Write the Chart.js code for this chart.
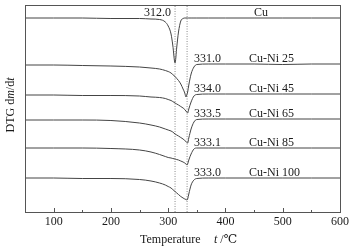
<!DOCTYPE html>
<html>
<head>
<meta charset="utf-8">
<script src="https://cdn.jsdelivr.net/npm/chart.js@4/dist/chart.umd.min.js"></script>
<style>
  html, body { margin: 0; padding: 0; background: #fff; }
  #wrap { width: 352px; height: 251px; }
</style>
</head>
<body>
<div id="wrap"><canvas id="dtgChart"></canvas></div>
<script>
// temperature grid (°C)
var temps = [50, 100, 150, 200, 250, 270, 285, 295, 300, 305, 308, 312, 315, 318, 322, 326, 329, 331, 333, 334, 336, 340, 345, 350, 370, 400, 450, 500, 550, 600];

// DTG curves (arbitrary units, offset per sample)
var cu     = [194, 194, 194, 193.5, 193.5, 193, 192.5, 190, 186, 178, 167, 149, 165, 180, 191, 193.5, 194, 194, 194, 194, 194, 194, 194, 194, 194, 194, 194, 194, 194, 194];
var cuNi25 = [147, 147, 146.5, 146, 145, 144, 143, 141.5, 140.5, 139, 137.5, 135.5, 133.5, 131.5, 128, 123, 119, 115, 118, 120, 127, 138, 145, 147.5, 148, 148, 148, 147.5, 148, 148];
var cuNi45 = [117, 117, 116.5, 116.5, 116, 115, 114.5, 113.5, 112.5, 111.5, 110.5, 109, 108, 107, 105.5, 104, 102.5, 101, 99.5, 99, 103, 110, 116, 117.5, 118, 118, 118, 118, 118, 118];
var cuNi65 = [92, 92, 92, 91.5, 89, 87, 85, 83, 82, 81, 80, 78, 77, 76, 74.5, 73, 71.5, 70.5, 69.2, 69, 74, 83, 90, 92.5, 93, 93, 93, 93, 93, 93];
var cuNi85 = [64, 64, 64, 63.5, 62, 60, 57.5, 55.5, 54.5, 54, 53.5, 53, 52.5, 52, 51, 50, 49, 48, 47, 48, 52, 58, 63, 64, 64, 64, 64, 64, 64, 64];
var cuNi100 = [34, 34, 33.5, 33.5, 32.5, 31, 29, 27, 25.5, 24, 22.5, 20.5, 19, 17.5, 15.5, 14, 13, 12.5, 12, 13, 18, 27, 32, 33.5, 34, 34, 34, 34, 34, 34];

var seriesNames = ['Cu', 'Cu-Ni 25', 'Cu-Ni 45', 'Cu-Ni 65', 'Cu-Ni 85', 'Cu-Ni 100'];
var seriesValues = [cu, cuNi25, cuNi45, cuNi65, cuNi85, cuNi100];
var peakTemps = [312.0, 331.0, 334.0, 333.5, 333.1, 333.0];
var guideTemps = [312, 333];
var xTicks = [100, 200, 300, 400, 500, 600];
var xMinorTicks = [150, 250, 350, 450, 550];

var SERIF = '"Liberation Serif", "DejaVu Serif", serif';

var datasets = seriesValues.map(function (vals, i) {
    return {
        label: seriesNames[i],
        data: temps.map(function (t, k) { return { x: t, y: vals[k] }; }),
        borderColor: '#444',
        borderWidth: 1,
        pointRadius: 0,
        cubicInterpolationMode: 'monotone',
        fill: false
    };
});
guideTemps.forEach(function (t) {
    datasets.push({
        label: 'guide ' + t,
        data: [{ x: t, y: 0 }, { x: t, y: 207 }],
        borderColor: '#8a8a8a',
        borderWidth: 1,
        borderDash: [1, 1.5],
        pointRadius: 0,
        fill: false
    });
});

// labels, frame, ticks and axis titles
var decorPlugin = {
    id: 'decor',
    afterDraw: function (chart) {
        var ctx = chart.ctx, a = chart.chartArea;
        var xs = chart.scales.x, ys = chart.scales.y;
        ctx.save();
        ctx.strokeStyle = '#555';
        ctx.lineWidth = 1;
        ctx.strokeRect(Math.round(a.left) + 0.5, Math.round(a.top) + 0.5,
            Math.round(a.right - a.left), Math.round(a.bottom - a.top));
        ctx.beginPath();
        xTicks.forEach(function (t) {
            var px = Math.round(xs.getPixelForValue(t)) + 0.5;
            ctx.moveTo(px, a.bottom); ctx.lineTo(px, a.bottom - 4);
        });
        xMinorTicks.forEach(function (t) {
            var px = Math.round(xs.getPixelForValue(t)) + 0.5;
            ctx.moveTo(px, a.bottom); ctx.lineTo(px, a.bottom - 2);
        });
        ctx.stroke();

        ctx.fillStyle = '#1a1a1a';
        ctx.font = '12px ' + SERIF;
        ctx.textBaseline = 'alphabetic';
        seriesValues.forEach(function (vals, i) {
            var py = ys.getPixelForValue(vals[vals.length - 1]) - 2;
            ctx.textAlign = 'left';
            ctx.fillText(seriesNames[i], i === 0 ? 254 : 249, py);
            var txt = peakTemps[i].toFixed(1);
            if (i === 0) {
                ctx.textAlign = 'right';
                ctx.fillText(txt, xs.getPixelForValue(peakTemps[i]) - 4, py);
            } else {
                ctx.fillText(txt, xs.getPixelForValue(333) + 7, py);
            }
        });

        // x title
        ctx.textAlign = 'left';
        ctx.font = '12px ' + SERIF;
        ctx.fillText('Temperature', 140, 243);
        ctx.font = 'italic 12px ' + SERIF;
        ctx.fillText('t', 214, 243);
        var w = ctx.measureText('t').width;
        ctx.font = '12px ' + SERIF;
        ctx.fillText(' /\u2103', 214 + w, 243);

        // y title, rotated
        ctx.translate(14, 105);
        ctx.rotate(-Math.PI / 2);
        var parts = [['DTG d', false], ['m', true], ['/d', false], ['t', true]];
        var total = 0;
        parts.forEach(function (p) {
            ctx.font = (p[1] ? 'italic ' : '') + '12px ' + SERIF;
            total += ctx.measureText(p[0]).width;
        });
        var cx = -total / 2;
        parts.forEach(function (p) {
            ctx.font = (p[1] ? 'italic ' : '') + '12px ' + SERIF;
            ctx.fillText(p[0], cx, 0);
            cx += ctx.measureText(p[0]).width;
        });
        ctx.restore();
    }
};

var ctx = document.getElementById('dtgChart').getContext('2d');
var dtgChart = new Chart(ctx, {
    type: 'line',
    data: { datasets: datasets },
    options: {
        responsive: true,
        maintainAspectRatio: false,
        animation: false,
        layout: { padding: { left: 25, top: 5, right: 10, bottom: 0 } },
        plugins: { legend: { display: false }, tooltip: { enabled: false } },
        scales: {
            x: {
                type: 'linear',
                min: 50,
                max: 600,
                afterBuildTicks: function (scale) {
                    scale.ticks = xTicks.map(function (v) { return { value: v }; });
                },
                afterFit: function (scale) { scale.height = 39; },
                grid: { display: false, drawTicks: false },
                border: { display: false },
                ticks: {
                    color: '#1a1a1a',
                    padding: 3,
                    maxRotation: 0,
                    autoSkip: false,
                    font: { family: SERIF, size: 12 }
                }
            },
            y: {
                display: false,
                min: 0,
                max: 207
            }
        }
    },
    plugins: [decorPlugin]
});
</script>
</body>
</html>
